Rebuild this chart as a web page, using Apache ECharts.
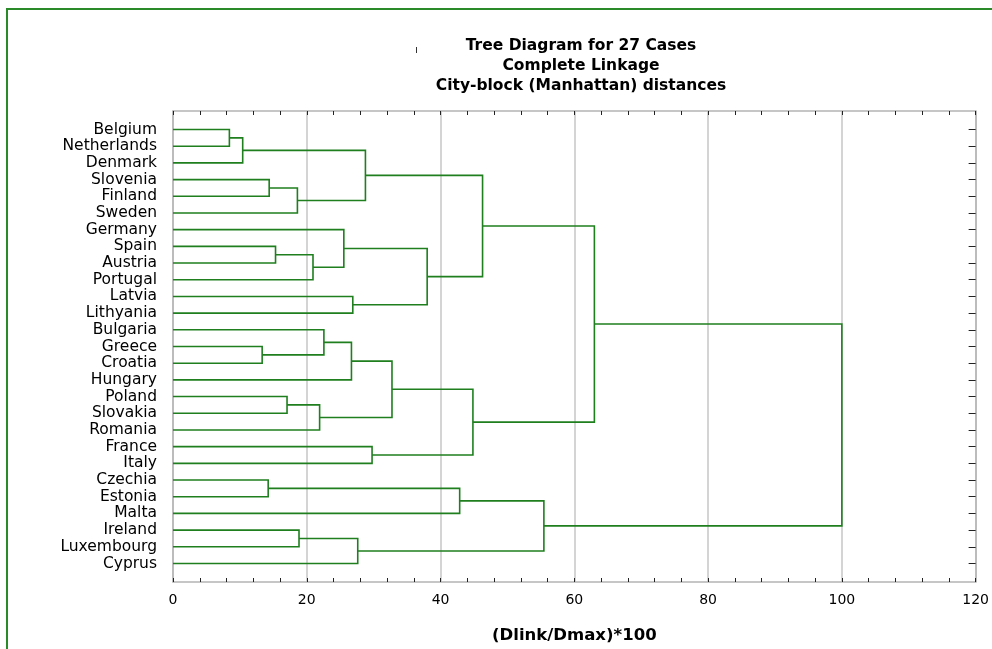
<!DOCTYPE html>
<html>
<head>
<meta charset="utf-8">
<script src="https://cdn.jsdelivr.net/npm/echarts@6/dist/echarts.min.js"></script>
<style>
html,body{margin:0;padding:0;background:#fff;}
#chart{width:992px;height:649px;}
</style>
</head>
<body>
<div id="chart"></div>
<script>
// Leaf order (top to bottom)
var countries = ['Belgium','Netherlands','Denmark','Slovenia','Finland','Sweden','Germany','Spain','Austria','Portugal','Latvia','Lithyania','Bulgaria','Greece','Croatia','Hungary','Poland','Slovakia','Romania','France','Italy','Czechia','Estonia','Malta','Ireland','Luxembourg','Cyprus'];
// Merges: child ids < 27 are leaves, >= 27 refer to merge (id - 27)
var mergeLeft   = [0, 27, 3, 29, 28, 7, 32, 6, 10, 34, 31, 13, 12, 39, 16, 41, 40, 19, 43, 37, 21, 47, 24, 49, 48, 46];
var mergeRight  = [1, 2, 4, 5, 30, 8, 9, 33, 11, 35, 36, 14, 38, 15, 17, 18, 42, 20, 44, 45, 22, 23, 25, 26, 50, 51];
var mergeHeight = [8.43, 10.42, 14.38, 18.6, 28.77, 15.33, 20.93, 25.54, 26.88, 38.0, 46.28, 13.33, 22.56, 26.68, 17.05, 21.92, 32.74, 29.76, 44.84, 63.0, 14.23, 42.86, 18.84, 27.62, 55.45, 100.0];
var xTicks = [0, 20, 40, 60, 80, 100, 120];
var title = 'Tree Diagram for 27 Cases\nComplete Linkage\nCity-block (Manhattan) distances';
var xName = '(Dlink/Dmax)*100';

var N = countries.length;
function nodeY(id) {
  if (id < N) return id;
  var k = id - N;
  return (nodeY(mergeLeft[k]) + nodeY(mergeRight[k])) / 2;
}
function nodeH(id) {
  if (id < N) return 0;
  return mergeHeight[id - N];
}
var linkData = mergeHeight.map(function (h, k) {
  return [h, nodeY(mergeLeft[k]), nodeY(mergeRight[k]), nodeH(mergeLeft[k]), nodeH(mergeRight[k])];
});
var leafIdx = countries.map(function (c, i) { return i; });

var FONT = 'DejaVu Sans';
var chart = echarts.init(document.getElementById('chart'), null, {renderer: 'canvas'});
var gridLeft = 173, gridRight = 13, gridTop = 111, gridBottom = 67;
var tickColor = '#222', borderColor = '#b4b4b4';

chart.setOption({
  animation: false,
  backgroundColor: '#fff',
  title: {
    text: title,
    left: 576, top: 31, textAlign: 'center',
    textStyle: {fontFamily: FONT, fontSize: 15.5, fontWeight: 'bold', lineHeight: 20, color: '#000'}
  },
  graphic: [
    {type: 'rect', shape: {x: 7, y: 9, width: 1000, height: 700}, style: {fill: 'none', stroke: '#2a8a2a', lineWidth: 2}, silent: true},
    {type: 'line', shape: {x1: 416.5, y1: 47, x2: 416.5, y2: 53}, style: {stroke: '#333', lineWidth: 1}, silent: true}
  ],
  grid: {left: gridLeft, right: gridRight, top: gridTop, bottom: gridBottom, containLabel: false},
  xAxis: [{
    type: 'value', position: 'bottom', min: xTicks[0], max: xTicks[xTicks.length - 1], interval: 20,
    axisLine: {show: true, onZero: false, lineStyle: {color: borderColor, width: 1.5}},
    axisTick: {show: true, inside: true, length: 4, lineStyle: {color: tickColor}},
    minorTick: {show: true, splitNumber: 5, length: 4, lineStyle: {color: tickColor}},
    splitLine: {show: true, lineStyle: {color: '#c6c6c6', width: 1.5}},
    axisLabel: {show: true, margin: 11, fontFamily: FONT, fontSize: 14, color: '#000'},
    name: xName, nameLocation: 'middle', nameGap: 45,
    nameTextStyle: {fontFamily: FONT, fontSize: 16.5, fontWeight: 'bold', color: '#000'}
  }, {
    type: 'value', position: 'top', min: xTicks[0], max: xTicks[xTicks.length - 1], interval: 20,
    axisLine: {show: true, onZero: false, lineStyle: {color: borderColor, width: 1.5}},
    axisTick: {show: true, inside: true, length: 4, lineStyle: {color: tickColor}},
    minorTick: {show: true, splitNumber: 5, length: 4, lineStyle: {color: tickColor}},
    splitLine: {show: false},
    axisLabel: {show: false}
  }],
  yAxis: [{
    type: 'value', position: 'left', inverse: true, min: -1.11, max: N - 1 + 1.11,
    axisLine: {show: true, onZero: false, lineStyle: {color: borderColor, width: 1.5}},
    axisTick: {show: false},
    splitLine: {show: false},
    axisLabel: {
      show: true, margin: 16, customValues: leafIdx,
      fontFamily: FONT, fontSize: 15.5, color: '#000',
      formatter: function (v) { var i = Math.round(v); return countries[i] || ''; }
    }
  }, {
    type: 'value', position: 'right', inverse: true, min: -1.11, max: N - 1 + 1.11,
    axisLine: {show: true, onZero: false, lineStyle: {color: borderColor, width: 1.5}},
    axisTick: {show: true, inside: true, length: 7, customValues: leafIdx, lineStyle: {color: tickColor}},
    splitLine: {show: false},
    axisLabel: {show: false}
  }],
  series: [{
    type: 'custom',
    xAxisIndex: 0, yAxisIndex: 0,
    data: linkData,
    renderItem: function (params, api) {
      var h = api.value(0), yl = api.value(1), yr = api.value(2), hl = api.value(3), hr = api.value(4);
      var p1 = api.coord([hl, yl]);
      var p2 = api.coord([h, yl]);
      var p3 = api.coord([h, yr]);
      var p4 = api.coord([hr, yr]);
      return {
        type: 'polyline',
        shape: {points: [p1, p2, p3, p4]},
        style: {fill: 'none', stroke: '#1f7f1f', lineWidth: 1.6}
      };
    },
    encode: {x: 0, y: [1, 2]},
    silent: true
  }]
});
</script>
</body>
</html>
